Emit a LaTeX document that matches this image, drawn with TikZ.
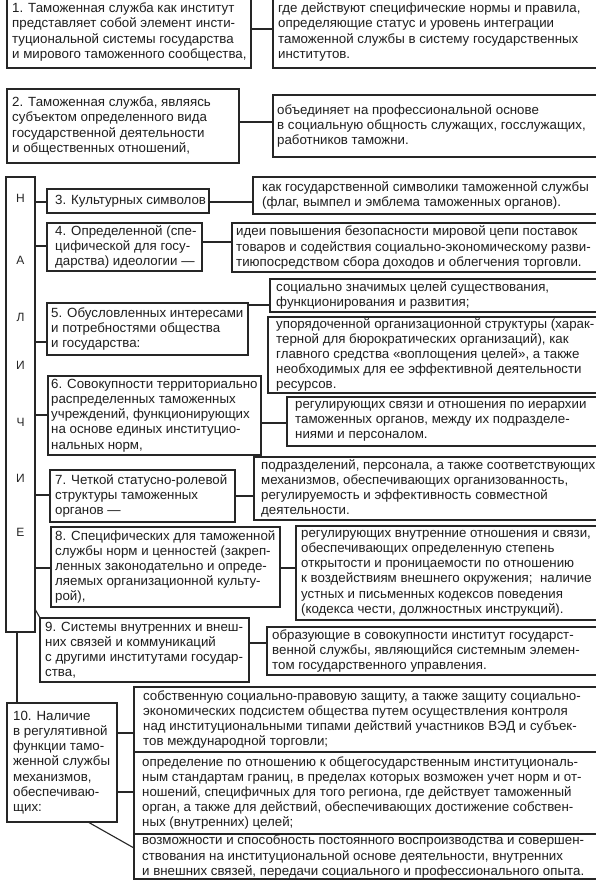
\documentclass[tikz,border=0pt]{standalone}
\usepackage{fontspec}
\setmainfont{Liberation Sans}
\newcommand\mkbox[5]{\node[bx, minimum width={#4-#2}, minimum height={#5-#3}] (#1) at (#2,#3) {};}
\tikzset{
  bx/.style={draw=black!85, line width=1.1pt, rectangle, inner sep=0pt, outer sep=0pt, anchor=north west},
  tx/.style={anchor=west, inner sep=0pt, align=left, font=\fontsize{13.3}{15.2}\selectfont, text=black!88},
  ln/.style={draw=black!85, line width=1.1pt},
  lt/.style={font=\fontsize{12}{14}\selectfont, inner sep=0pt, text=black!85}
}
\begin{document}
\begin{tikzpicture}[x=1pt,y=-1pt]
\useasboundingbox (0,0) rectangle (596,880);
\clip (0,0) rectangle (596,880);
\fill[white] (0,0) rectangle (596,880);

% boxes
\mkbox{b1}{7}{-4}{251}{68}
\mkbox{r1}{273}{-4}{598}{68}
\mkbox{b2}{7}{89}{239}{163}
\mkbox{r2}{273}{95}{598}{157}
\mkbox{vb}{6}{177}{35}{632}
\mkbox{b3}{47}{189}{209}{213}
\mkbox{r3}{253}{177}{598}{214}
\mkbox{b4}{47}{223}{202}{271}
\mkbox{r4}{232}{223}{598}{272}
\mkbox{b5}{47}{303}{248}{355}
\mkbox{r5a}{270}{279}{598}{312}
\mkbox{r5b}{268}{317}{598}{393}
\mkbox{b6}{48}{376}{261}{455}
\mkbox{r6}{287}{397}{598}{446}
\mkbox{b7}{50}{470}{235}{522}
\mkbox{r7}{254}{457}{598}{520}
\mkbox{b8}{51}{527}{280}{607}
\mkbox{r8}{296}{526}{598}{620}
\mkbox{b9}{40}{618}{249}{682}
\mkbox{r9}{267}{627}{598}{675}
\mkbox{b10}{7}{703}{117}{822}
\mkbox{ra}{134}{687}{598}{752}
\mkbox{rb}{134}{752}{598}{834}
\mkbox{rc}{134}{834}{598}{879}

% texts
\node[tx] (t1) at ([xshift=5pt]b1.west) {1. Таможенная служба как институт\\представляет собой элемент инсти-\\туциональной системы государства\\и мирового таможенного сообщества,};
\node[tx] (s1) at ([xshift=5pt]r1.west) {где действуют специфические нормы и правила,\\определяющие статус и уровень интеграции\\таможенной службы в систему государственных\\институтов.};
\node[tx] (t2) at ([xshift=5pt]b2.west) {2. Таможенная служба, являясь\\субъектом определенного вида\\государственной деятельности\\и общественных отношений,};
\node[tx] (s2) at ([xshift=4pt]r2.west) {объединяет на профессиональной основе\\в социальную общность служащих, госслужащих,\\работников таможни.};
\node[tx] (t3) at ([xshift=8pt]b3.west) {3. Культурных символов};
\node[tx] (s3) at ([xshift=9pt]r3.west) {как государственной символики таможенной службы\\(флаг, вымпел и эмблема таможенных органов).};
\node[tx] (t4) at ([xshift=8pt]b4.west) {4. Определенной (спе-\\цифической для госу-\\дарства) идеологии —};
\node[tx] (s4) at ([xshift=4pt]r4.west) {идеи повышения безопасности мировой цепи поставок\\товаров и содействия социально-экономическому разви-\\тиюпосредством сбора доходов и облегчения торговли.};
\node[tx] (t5) at ([xshift=4pt]b5.west) {5. Обусловленных интересами\\и потребностями общества\\и государства:};
\node[tx] (s5a) at ([xshift=6pt]r5a.west) {социально значимых целей существования,\\функционирования и развития;};
\node[tx] (s5b) at ([xshift=8pt]r5b.west) {упорядоченной организационной структуры (харак-\\терной для бюрократических организаций), как\\главного средства «воплощения целей», а также\\необходимых для ее эффективной деятельности\\ресурсов.};
\node[tx] (t6) at ([xshift=3pt]b6.west) {6. Совокупности территориально\\распределенных таможенных\\учреждений, функционирующих\\на основе единых институцио-\\нальных норм,};
\node[tx] (s6) at ([xshift=8pt]r6.west) {регулирующих связи и отношения по иерархии\\таможенных органов, между их подразделе-\\ниями и персоналом.};
\node[tx] (t7) at ([xshift=5pt]b7.west) {7. Четкой статусно-ролевой\\структуры таможенных\\органов —};
\node[tx] (s7) at ([xshift=7pt]r7.west) {подразделений, персонала, а также соответствующих\\механизмов, обеспечивающих организованность,\\регулируемость и эффективность совместной\\деятельности.};
\node[tx] (t8) at ([xshift=4pt]b8.west) {8. Специфических для таможенной\\службы норм и ценностей (закреп-\\ленных законодательно и опреде-\\ляемых организационной культу-\\рой),};
\node[tx] (s8) at ([xshift=5pt]r8.west) {регулирующих внутренние отношения и связи,\\обеспечивающих определенную степень\\открытости и проницаемости по отношению\\к воздействиям внешнего окружения;\ \ наличие\\устных и письменных кодексов поведения\\(кодекса чести, должностных инструкций).};
\node[tx] (t9) at ([xshift=5pt]b9.west) {9. Системы внутренних и внеш-\\них связей и коммуникаций\\с другими институтами государ-\\ства,};
\node[tx] (s9) at ([xshift=5pt]r9.west) {образующие в совокупности институт государст-\\венной службы, являющийся системным элемен-\\том государственного управления.};
\node[tx] (t10) at ([xshift=6pt]b10.west) {10. Наличие\\в регулятивной\\функции тамо-\\женной службы\\механизмов,\\обеспечиваю-\\щих:};
\node[tx] (sa) at ([xshift=9pt]ra.west) {собственную социально-правовую защиту, а также защиту социально-\\экономических подсистем общества путем осуществления контроля\\над институциональными типами действий участников ВЭД и субъек-\\тов международной торговли;};
\node[tx] (sb) at ([xshift=8pt]rb.west) {определение по отношению к общегосударственным институциональ-\\ным стандартам границ, в пределах которых возможен учет норм и от-\\ношений, специфичных для того региона, где действует таможенный\\орган, а также для действий, обеспечивающих достижение собствен-\\ных (внутренних) целей;};
\node[tx] (sc) at ([xshift=8pt]rc.west) {возможности и способность постоянного воспроизводства и совершен-\\ствования на институциональной основе деятельности, внутренних\\и внешних связей, передачи социального и профессионального опыта.};

% vertical letters
\node[lt] (n1) at (20.5,198) {Н};
\node[lt] (n2) at (20.5,260) {А};
\node[lt] (n3) at (20.5,317) {Л};
\node[lt] (n4) at (20.5,365) {И};
\node[lt] (n5) at (20.5,422) {Ч};
\node[lt] (n6) at (20.5,478) {И};
\node[lt] (n7) at (20.5,532) {Е};

% connectors left -> right
\draw[ln] (b1.east |- 0,29) -- (r1.west |- 0,29);
\draw[ln] (b2.east |- 0,122) -- (r2.west |- 0,122);
\draw[ln] (b3.east |- 0,202) -- (r3.west |- 0,202);
\draw[ln] (b4.east |- 0,242) -- (r4.west |- 0,242);
\draw[ln] (b5.east |- 0,305) -- (r5a.west |- 0,305);
\draw[ln] (b6.east |- 0,423) -- (r6.west |- 0,423);
\draw[ln] (b7.east |- 0,496) -- (r7.west |- 0,496);
\draw[ln] (b8.east |- 0,568) -- (r8.west |- 0,568);
\draw[ln] (b9.east |- 0,643) -- (r9.west |- 0,643);
% vertical box -> items
\draw[ln] (vb.east |- 0,202) -- (b3.west |- 0,202);
\draw[ln] (vb.east |- 0,246) -- (b4.west |- 0,246);
\draw[ln] (vb.east |- 0,342) -- (b5.west |- 0,342);
\draw[ln] (vb.east |- 0,415) -- (b6.west |- 0,415);
\draw[ln] (vb.east |- 0,495) -- (b7.west |- 0,495);
\draw[ln] (vb.east |- 0,568) -- (b8.west |- 0,568);
\draw[ln] (vb.east |- 0,609) -- (b9.north west);
\draw[ln] (17,0 |- vb.south) -- (17,0 |- b10.north);
% item 10 -> right boxes
\draw[ln] (b10.east |- 0,733) -- (ra.west |- 0,733);
\draw[ln] (b10.east |- 0,792) -- (rb.west |- 0,792);
\draw[ln] (88,0 |- b10.south) -- (rc.west |- 0,848);
\end{tikzpicture}
\end{document}
